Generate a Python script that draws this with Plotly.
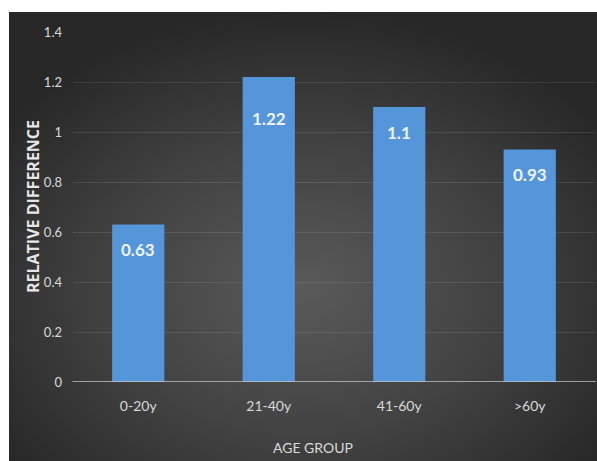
import base64
import plotly.graph_objects as go

categories = ["0-20y", "21-40y", "41-60y", ">60y"]
values = [0.63, 1.22, 1.1, 0.93]
value_labels = ["0.63", "1.22", "1.1", "0.93"]
y_ticks = [0, 0.2, 0.4, 0.6, 0.8, 1.0, 1.2, 1.4]
y_tick_text = ["0", "0.2", "0.4", "0.6", "0.8", "1", "1.2", "1.4"]

# style: vertical offset (px) of each value label below its bar top
label_shift = [-25, -41, -25, -25]

W, H = 597, 461
L, R, T, B = 73, 2, 32, 79
pw, ph = W - L - R, H - T - B


def px_x(p):
    return (p - L) / pw


def px_y(p):
    return (H - B - p) / ph


svg = (
    '<svg xmlns="http://www.w3.org/2000/svg" width="588" height="449" preserveAspectRatio="none">'
    '<defs><radialGradient id="g" cx="50%" cy="62%" r="62%">'
    '<stop offset="0%" stop-color="#5a5a5a"/>'
    '<stop offset="55%" stop-color="#414141"/>'
    '<stop offset="100%" stop-color="#282828"/>'
    '</radialGradient></defs>'
    '<rect width="588" height="449" fill="url(#g)"/></svg>'
)
src = "data:image/svg+xml;base64," + base64.b64encode(svg.encode()).decode()

font_main = "Lato, Open Sans, sans-serif"

fig = go.Figure()
fig.add_trace(go.Bar(
    x=categories, y=values,
    marker=dict(color="#5596da", line=dict(width=0)),
    width=0.4,
    hoverinfo="skip",
))

for c, v, t, s in zip(categories, values, value_labels, label_shift):
    fig.add_annotation(
        x=c, y=v, text="<b>" + t + "</b>", showarrow=False,
        yshift=s, yanchor="middle",
        font=dict(family=font_main, size=17, color="#eef3f9"),
    )

# axis titles
fig.add_annotation(
    x=px_x(313), y=px_y(447), xref="paper", yref="paper",
    text="AGE GROUP", showarrow=False, xanchor="center", yanchor="middle",
    font=dict(family=font_main, size=14, color="#d9d9d9"),
)
fig.add_annotation(
    x=px_x(33), y=px_y(207), xref="paper", yref="paper",
    text="<b>RELATIVE DIFFERENCE</b>", showarrow=False, textangle=-90,
    xanchor="center", yanchor="middle",
    font=dict(family="Open Sans, DejaVu Sans, sans-serif", size=16, color="#e6e6e6"),
)

x0, x1 = px_x(9), px_x(597)
y0, y1 = px_y(461), px_y(12)
fig.add_layout_image(
    source=src, xref="paper", yref="paper",
    x=x0, y=y1, sizex=x1 - x0, sizey=y1 - y0,
    xanchor="left", yanchor="top", sizing="stretch", layer="below",
)

fig.update_layout(
    width=W, height=H,
    margin=dict(l=L, r=R, t=T, b=B),
    paper_bgcolor="white",
    plot_bgcolor="rgba(0,0,0,0)",
    showlegend=False,
    xaxis=dict(
        range=[-0.5, 3.5],
        showgrid=False,
        showline=False,
        zeroline=False,
        ticks="outside", ticklen=11, tickcolor="rgba(0,0,0,0)",
        tickfont=dict(family=font_main, size=14, color="#d9d9d9"),
        fixedrange=True,
    ),
    yaxis=dict(
        range=[0, 1.4],
        tickvals=y_ticks, ticktext=y_tick_text,
        showgrid=True, gridcolor="rgba(255,255,255,0.10)", gridwidth=1,
        zeroline=False, showline=False,
        ticks="", ticklabelstandoff=10,
        tickfont=dict(family=font_main, size=13, color="#d9d9d9"),
        fixedrange=True,
    ),
)

fig.add_shape(type="line", xref="paper", yref="y", x0=px_x(72.5), x1=px_x(596), y0=0, y1=0,
              line=dict(color="#c4c4c4", width=1.5), layer="above")

fig.write_html("out.html", config=dict(displayModeBar=False),
               post_script="document.body.style.margin='0';")
